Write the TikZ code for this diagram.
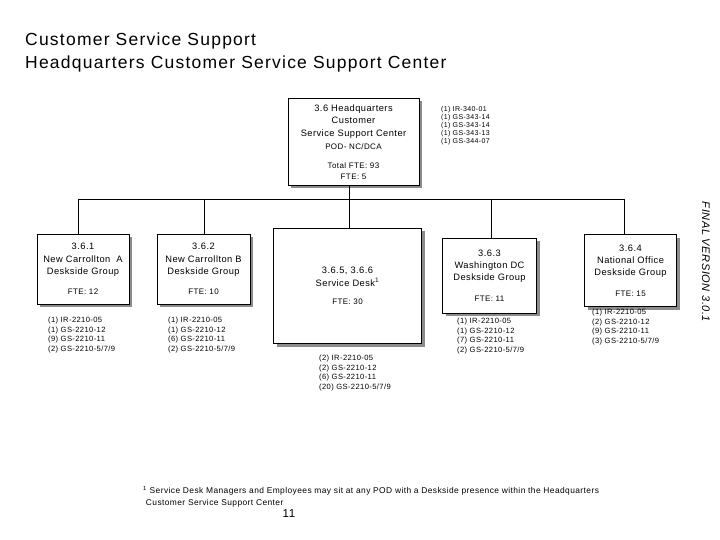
\documentclass[tikz,border=0pt]{standalone}
\usepackage{fontspec}
\setmainfont{Liberation Sans}[LetterSpace=5]
\newfontfamily\titlefont{Liberation Sans}[LetterSpace=7]
\usetikzlibrary{shadows}
\newcommand{\ftetext}[1]{{\fontsize{8}{10}\selectfont #1}}
\tikzset{
  box/.style={draw, fill=white, line width=0.9pt, align=center, inner sep=0pt,
    font=\fontsize{9.3}{12.3}\selectfont,
    drop shadow={shadow xshift=3pt, shadow yshift=-3pt, fill=black!45, opacity=1}},
  listtext/.style={anchor=north west, align=left, inner sep=0pt,
    font=\fontsize{7.6}{9.5}\selectfont},
  conn/.style={line width=0.9pt},
}
\begin{document}
\begin{tikzpicture}[x=1pt,y=-1pt]
\useasboundingbox (0,0) rectangle (720,540);
% title
\node[anchor=north west, align=left, inner sep=0pt, font=\titlefont\fontsize{17.5}{23}\selectfont] (title) at (25,33)
  {Customer Service Support\\Headquarters Customer Service Support Center};
% top box
\node[box, minimum width=131pt, minimum height=87pt] (T) at (353.5,142)
  {3.6 Headquarters\\Customer\\Service Support Center\\[1pt]\ftetext{POD- NC/DCA}\\[7pt]\ftetext{Total FTE: 93}\\[-2pt]\ftetext{FTE: 5}};
\node[listtext, font=\fontsize{7}{8}\selectfont] (Tl) at (441,106)
  {(1) IR-340-01\\(1) GS-343-14\\(1) GS-343-14\\(1) GS-343-13\\(1) GS-344-07};
% bus
\coordinate (jA) at (78,199);
\coordinate (jB) at (204,199);
\coordinate (jS) at (349,199);
\coordinate (jW) at (491,199);
\coordinate (jN) at (624,199);
% boxes
\node[box, minimum width=92pt, minimum height=70pt] (A) at (83,269)
  {3.6.1\\New Carrollton\ \ A\\Deskside Group\\[8pt]\ftetext{FTE: 12}};
\node[box, minimum width=93pt, minimum height=70pt] (B) at (203.5,269)
  {3.6.2\\New Carrollton B\\Deskside Group\\[8pt]\ftetext{FTE: 10}};
\node[box, minimum width=148pt, minimum height=115pt] (S) at (347.5,286)
  {3.6.5, 3.6.6\\Service Desk\textsuperscript{1}\\[6pt]\ftetext{FTE: 30}};
\node[box, minimum width=94pt, minimum height=75pt] (W) at (489.5,275.5)
  {3.6.3\\Washington DC\\Deskside Group\\[8pt]\ftetext{FTE: 11}};
\node[box, minimum width=92pt, minimum height=72pt] (N) at (630.5,270.5)
  {3.6.4\\National Office\\Deskside Group\\[8pt]\ftetext{FTE: 15}};
% connectors
\draw[conn] (T.south -| jS) -- (jS);
\draw[conn] (jA) -- (jN);
\foreach \j/\b in {jA/A, jB/B, jS/S, jW/W, jN/N}
  \draw[conn] (\j) -- (\j |- \b.north);
% lists
\node[listtext] (Al) at (48,317)
  {(1) IR-2210-05\\(1) GS-2210-12\\(9) GS-2210-11\\(2) GS-2210-5/7/9};
\node[listtext] (Bl) at (168,317)
  {(1) IR-2210-05\\(1) GS-2210-12\\(6) GS-2210-11\\(2) GS-2210-5/7/9};
\node[listtext] (Sl) at (319,355)
  {(2) IR-2210-05\\(2) GS-2210-12\\(6) GS-2210-11\\(20) GS-2210-5/7/9};
\node[listtext] (Wl) at (457,318)
  {(1) IR-2210-05\\(1) GS-2210-12\\(7) GS-2210-11\\(2) GS-2210-5/7/9};
\node[listtext] (Nl) at (592,309)
  {(1) IR-2210-05\\(2) GS-2210-12\\(9) GS-2210-11\\(3) GS-2210-5/7/9};
% side label
\node[rotate=-90, inner sep=0pt, font=\itshape\fontsize{11}{13}\selectfont] (fv) at (706,262) {FINAL VERSION 3.0.1};
% footnote
\node[anchor=north west, align=left, inner sep=0pt, font=\fontsize{8.4}{12}\selectfont] (fn) at (143,486)
  {\textsuperscript{1}\ Service Desk Managers and Employees may sit at any POD with a Deskside presence within the Headquarters\\
   \ Customer Service Support Center};
\node[inner sep=0pt, font=\fontsize{11.5}{13}\selectfont] (pg) at (289,514) {11};
\end{tikzpicture}
\end{document}
